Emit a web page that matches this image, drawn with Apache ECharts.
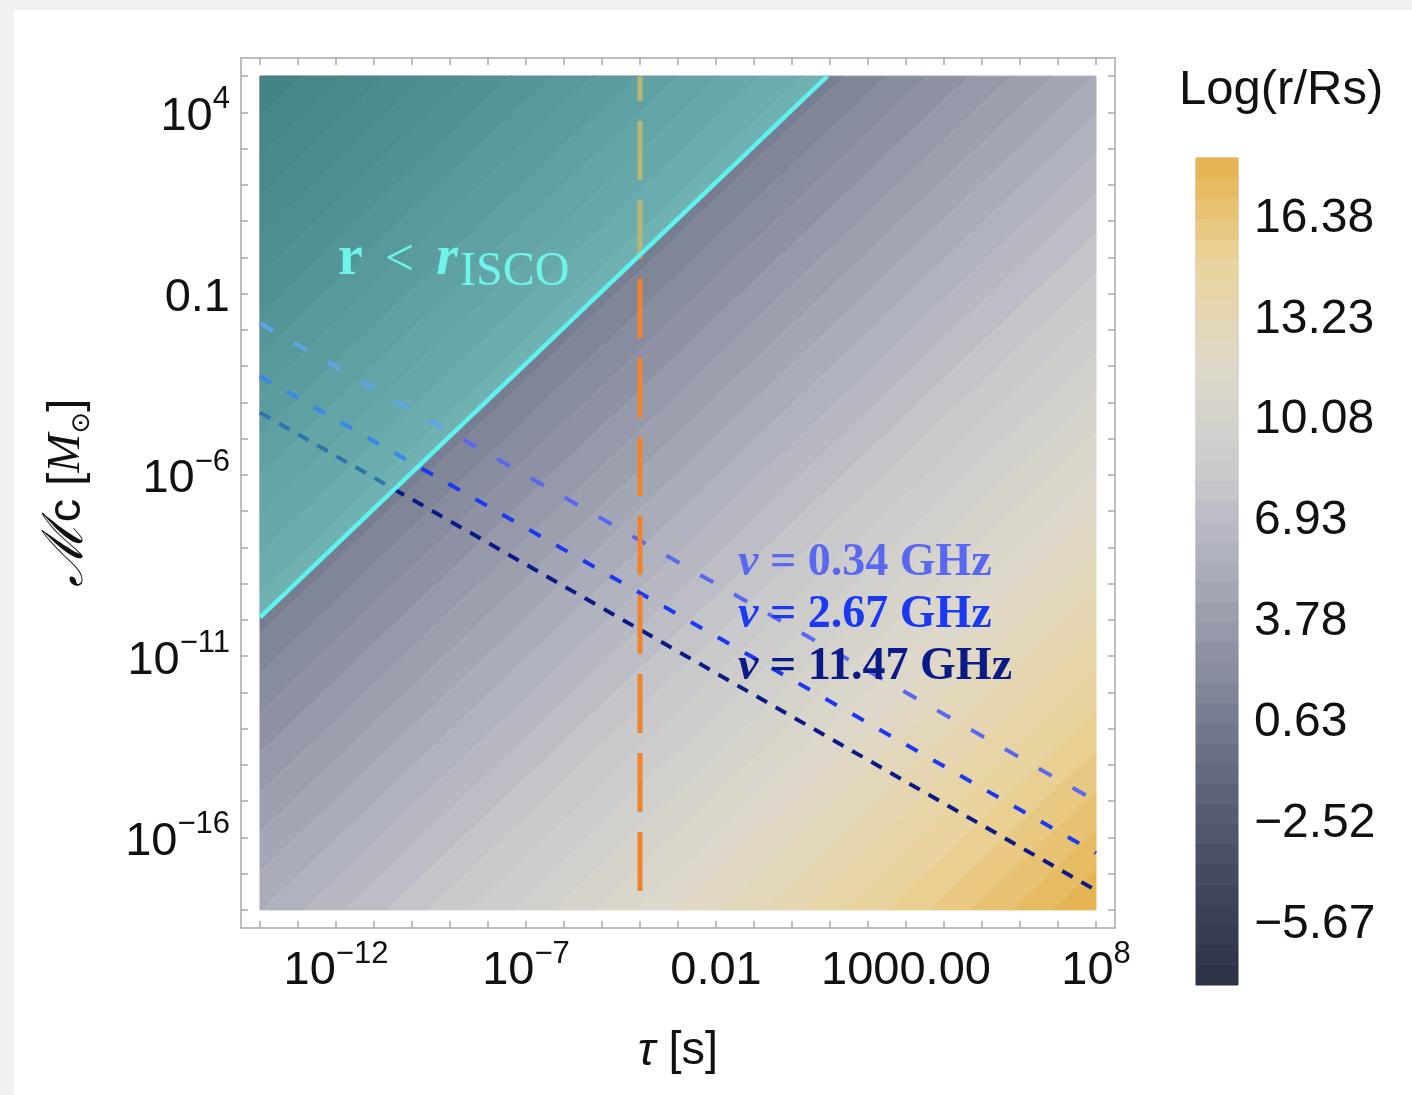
<!DOCTYPE html>
<html>
<head>
<meta charset="utf-8">
<script src="https://cdn.jsdelivr.net/npm/echarts@6/dist/echarts.min.js"></script>
<style>
  html, body { margin: 0; padding: 0; background: #f1f1f1; }
  #panel { position: absolute; left: 14px; top: 10px; right: 0; bottom: 0; background: #ffffff; }
  #chart { position: absolute; left: 0; top: 0; width: 1412px; height: 1095px; }
</style>
</head>
<body>
<div id="panel"></div>
<div id="chart"></div>
<script>
// ---- plot range (log10 of tau in s, log10 of chirp mass in solar masses) ----
const tauRange = [-14, 8];
const mcRange = [-18, 5];

// frame ticks (one per decade) and labelled ticks
const tauTicks = [-14, -13, -12, -11, -10, -9, -8, -7, -6, -5, -4, -3, -2, -1, 0, 1, 2, 3, 4, 5, 6, 7, 8];
const mcTicks = [-18, -17, -16, -15, -14, -13, -12, -11, -10, -9, -8, -7, -6, -5, -4, -3, -2, -1, 0, 1, 2, 3, 4, 5];
const tauLabelAt = [-12, -7, -2, 3, 8];
const tauLabelText = ['10^\u221212', '10^\u22127', '0.01', '1000.00', '10^8'];
const mcLabelAt = [4, -1, -6, -11, -16];
const mcLabelText = ['10^4', '0.1', '10^\u22126', '10^\u221211', '10^\u221216'];

// Log(r/Rs) contour levels (band edges)
const levels = [-7.56, -6.93, -6.30, -5.67, -5.04, -4.41, -3.78, -3.15, -2.52, -1.89, -1.26, -0.63,
  0.00, 0.63, 1.26, 1.89, 2.52, 3.15, 3.78, 4.41, 5.04, 5.67, 6.30, 6.93, 7.56, 8.19, 8.82, 9.45,
  10.08, 10.71, 11.34, 11.97, 12.60, 13.23, 13.86, 14.49, 15.12, 15.75, 16.38, 17.01, 17.64, 18.27];
// where each contour edge runs: log10(tau) - log10(Mc)
const levelOffsets = [-19.00, -17.90, -16.80, -15.71, -14.61, -13.51, -12.41, -11.32, -10.22, -9.12,
  -8.02, -6.93, -5.83, -4.73, -3.63, -2.54, -1.44, -0.34, 0.76, 1.85, 2.95, 4.05, 5.15, 6.24, 7.34,
  8.44, 9.54, 10.63, 11.73, 12.83, 13.93, 15.02, 16.12, 17.22, 18.32, 19.41, 20.51, 21.61, 22.71,
  23.80, 24.90, 26.00];
const keyTicks = [-5.67, -2.52, 0.63, 3.78, 6.93, 10.08, 13.23, 16.38];

// r = r_ISCO boundary
const iscoTau = [-14, 0.93];
const iscoMc = [-9.93, 5];

// constant-frequency lines
const freqNames = ['0.34', '2.67', '11.47'];
const freqTau = [-14, 8];
const freqMc = [[-1.82, -15.00], [-3.28, -16.43], [-4.28, -17.46]];

// vertical marker
const markerTau = -4;

// ---- styles ----
const AX = '#a9a9a9';
const SANS = '"Liberation Sans", Arial, Helvetica, sans-serif';
const SERIF = '"Liberation Serif", "Times New Roman", serif';
const freqColors = ['#5a68f0', '#1b38f2', '#0b1a86'];
const freqDash = [[15, 24], [13, 18], [12, 10]];
const rampColors = ['#2b3044', '#42485d', '#61677c', '#868b9e', '#aaacb9', '#cbcbcd', '#dfd9ca', '#ead39c', '#e6b14a'];
const cyanText = '#6ff4ea';

const bandData = levels.slice(0, -1).map((lv, k) => [levelOffsets[k], levelOffsets[k + 1], (lv + levels[k + 1]) / 2]);
const keyData = levels.slice(0, -1).map((lv, k) => [lv, levels[k + 1], (lv + levels[k + 1]) / 2]);

function powLabel(txt) {
  if (txt.indexOf('^') < 0) return '{b|' + txt + '}';
  const parts = txt.split('^');
  return '{b|' + parts[0] + '}{e|' + parts[1] + '}';
}
function lookup(at, text, v) {
  for (let i = 0; i < at.length; i++) if (Math.abs(at[i] - v) < 1e-6) return powLabel(text[i]);
  return '';
}
const richTick = {
  b: { fontFamily: SANS, fontSize: 47, lineHeight: 56, verticalAlign: 'bottom', color: '#111' },
  e: { fontFamily: SANS, fontSize: 31, lineHeight: 32, verticalAlign: 'top', color: '#111' }
};

// clip a polygon against the half-plane f(p) >= 0
function clipPoly(poly, f) {
  const out = [];
  for (let i = 0; i < poly.length; i++) {
    const a = poly[i], b = poly[(i + 1) % poly.length];
    const fa = f(a), fb = f(b);
    if (fa >= 0) out.push(a);
    if ((fa >= 0) !== (fb >= 0)) {
      const t = fa / (fa - fb);
      out.push([a[0] + t * (b[0] - a[0]), a[1] + t * (b[1] - a[1])]);
    }
  }
  return out;
}

function frameAxis(pos, range, ticks, labelAt, labelText, withLabels, extra) {
  return Object.assign({
    gridIndex: 0, type: 'value', position: pos,
    min: range[0] - 0.5, max: range[1] + 0.5,
    axisLine: { show: true, onZero: false, lineStyle: { color: AX, width: 1.5 } },
    axisTick: { show: true, inside: true, length: 7, customValues: ticks, lineStyle: { color: AX, width: 1.5 } },
    axisLabel: withLabels ? {
      show: true, customValues: labelAt, margin: 11,
      formatter: v => lookup(labelAt, labelText, v), rich: richTick
    } : { show: false },
    splitLine: { show: false }
  }, extra || {});
}

const chart = echarts.init(document.getElementById('chart'));

const option = {
  animation: false,
  grid: [
    { left: 241, top: 58, width: 874, height: 870 },
    { left: 1196, top: 158, width: 42, height: 827, show: true, borderColor: '#b8b8b8', borderWidth: 1 }
  ],
  xAxis: [
    frameAxis('bottom', tauRange, tauTicks, tauLabelAt, tauLabelText, true, {
      name: '{i|\u03c4}{t| [s]}', nameLocation: 'middle', nameGap: 100,
      nameTextStyle: { rich: {
        i: { fontFamily: SANS, fontStyle: 'italic', fontSize: 47, color: '#111' },
        t: { fontFamily: SANS, fontSize: 47, color: '#111' }
      } }
    }),
    frameAxis('top', tauRange, tauTicks, null, null, false),
    { gridIndex: 1, type: 'value', min: 0, max: 1, show: false }
  ],
  yAxis: [
    frameAxis('left', mcRange, mcTicks, mcLabelAt, mcLabelText, true, {
      name: '{s|\u2133}{t|c [}{m|M}{o|\u2299}{t|]}', nameLocation: 'middle', nameGap: 146,
      nameTextStyle: { rich: {
        s: { fontFamily: '"DejaVu Serif", serif', fontStyle: 'italic', fontSize: 56, color: '#111' },
        t: { fontFamily: SANS, fontSize: 47, color: '#111' },
        m: { fontFamily: SERIF, fontStyle: 'italic', fontSize: 47, color: '#111' },
        o: { fontFamily: '"DejaVu Sans", sans-serif', fontSize: 26, color: '#111', verticalAlign: 'bottom', padding: [14, 0, 0, 0] }
      } }
    }),
    frameAxis('right', mcRange, mcTicks, null, null, false),
    {
      gridIndex: 1, type: 'value', position: 'right', min: levels[0], max: levels[levels.length - 1],
      axisLine: { show: false },
      axisTick: { show: true, inside: false, length: 8, customValues: keyTicks, lineStyle: { color: '#8c8c8c', width: 1.5 } },
      axisLabel: {
        show: true, customValues: keyTicks, margin: 16, fontFamily: SANS, fontSize: 48, color: '#111',
        formatter: v => v.toFixed(2).replace('-', '\u2212')
      },
      splitLine: { show: false }
    }
  ],
  visualMap: {
    type: 'continuous', show: false, seriesIndex: [0, 1], dimension: 2,
    min: levels[0], max: levels[levels.length - 1],
    inRange: { color: rampColors }
  },
  series: [
    {
      // contour bands of Log(r/Rs)
      type: 'custom', xAxisIndex: 0, yAxisIndex: 0, data: bandData, z: 1,
      renderItem: function (params, api) {
        const lo = api.value(0), hi = api.value(1);
        let poly = [[tauRange[0], mcRange[0]], [tauRange[1], mcRange[0]], [tauRange[1], mcRange[1]], [tauRange[0], mcRange[1]]];
        poly = clipPoly(poly, p => (p[0] - p[1]) - lo);
        poly = clipPoly(poly, p => hi - (p[0] - p[1]));
        if (poly.length < 3) return null;
        const c = api.visual('color');
        return { type: 'polygon', shape: { points: poly.map(p => api.coord(p)) }, style: { fill: c, stroke: c, lineWidth: 1 } };
      }
    },
    {
      // colour key
      type: 'custom', xAxisIndex: 2, yAxisIndex: 2, data: keyData,
      renderItem: function (params, api) {
        const p1 = api.coord([0, api.value(0)]);
        const p2 = api.coord([1, api.value(1)]);
        const c = api.visual('color');
        return { type: 'rect', shape: { x: p1[0], y: p2[1], width: p2[0] - p1[0], height: p1[1] - p2[1] }, style: { fill: c, stroke: c, lineWidth: 0.8 } };
      }
    }
  ].concat(freqNames.map((nm, i) => ({
    name: nm + ' GHz', type: 'line', xAxisIndex: 0, yAxisIndex: 0, symbol: 'none', z: 3,
    data: [[freqTau[0], freqMc[i][0]], [freqTau[1], freqMc[i][1]]],
    lineStyle: { color: freqColors[i], width: 4, type: freqDash[i], cap: 'butt' }
  }))).concat([
    {
      type: 'line', xAxisIndex: 0, yAxisIndex: 0, symbol: 'none', z: 3,
      data: [[markerTau, mcRange[0]], [markerTau, mcRange[1]]],
      lineStyle: { color: '#f0842c', width: 5, type: [59, 20], dashOffset: 60, cap: 'butt' }
    },
    {
      // r < r_ISCO region
      type: 'custom', xAxisIndex: 0, yAxisIndex: 0, data: [[iscoTau[0], iscoMc[0]]], z: 4,
      renderItem: function (params, api) {
        const pts = [[iscoTau[0], iscoMc[0]], [iscoTau[1], iscoMc[1]], [tauRange[0], mcRange[1]]].map(p => api.coord(p));
        return { type: 'polygon', shape: { points: pts }, style: { fill: 'rgba(100,255,228,0.40)' } };
      }
    },
    {
      type: 'line', xAxisIndex: 0, yAxisIndex: 0, symbol: 'none', z: 5,
      data: [[iscoTau[0], iscoMc[0]], [iscoTau[1], iscoMc[1]]],
      lineStyle: { color: '#5ef3ee', width: 4.5 }
    }
  ]),
  graphic: [
    {
      type: 'text', z: 100, left: 1179, top: 66,
      style: { text: 'Log(r/Rs)', fontFamily: SANS, fontSize: 49, fill: '#111' }
    },
    {
      type: 'text', z: 100, x: 338, y: 232,
      style: {
        text: '{a|r}{s|<}{c|r}{d|ISCO}',
        rich: {
          a: { fontFamily: SERIF, fontWeight: 'bold', fontSize: 56, fill: cyanText, verticalAlign: 'bottom', padding: [0, 0, 8, 0] },
          s: { fontFamily: SERIF, fontSize: 52, fill: cyanText, verticalAlign: 'bottom', padding: [0, 22, 9, 22] },
          c: { fontFamily: SERIF, fontWeight: 'bold', fontStyle: 'italic', fontSize: 56, fill: cyanText, verticalAlign: 'bottom', padding: [0, 2, 8, 0] },
          d: { fontFamily: SERIF, fontSize: 48, fill: cyanText, verticalAlign: 'bottom' }
        }
      }
    }
  ].concat(freqNames.map((nm, i) => ({
    type: 'text', z: 100, x: 738, y: 563 + 52 * i,
    style: {
      text: '{n|\u03bd}{t| = ' + nm + ' GHz}',
      verticalAlign: 'middle',
      rich: {
        n: { fontFamily: SERIF, fontWeight: 'bold', fontStyle: 'italic', fontSize: 46, fill: freqColors[i] },
        t: { fontFamily: SERIF, fontWeight: 'bold', fontSize: 46, fill: freqColors[i] }
      }
    }
  })))
};

chart.setOption(option);
</script>
</body>
</html>
